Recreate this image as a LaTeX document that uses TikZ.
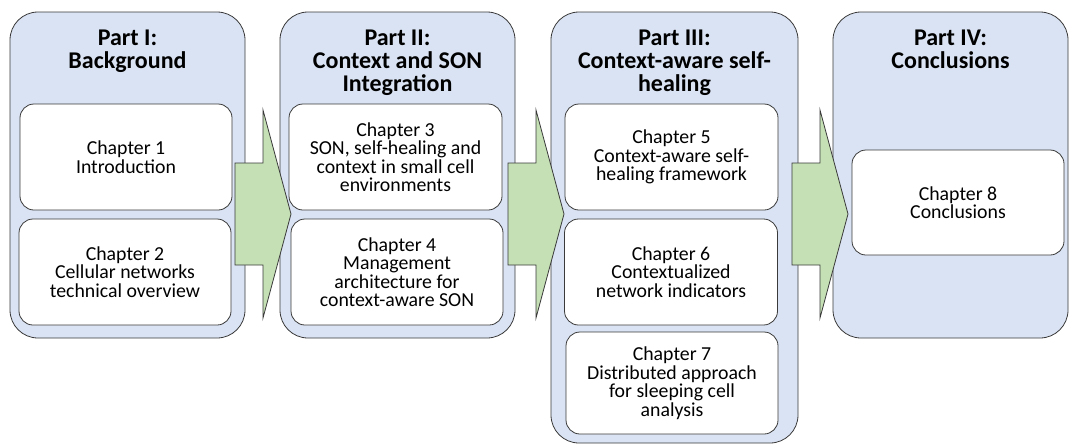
\documentclass[tikz,border=0pt]{standalone}
\usepackage{fontspec}
\setmainfont{Carlito}
\definecolor{partfill}{HTML}{DAE3F3}
\definecolor{arrowfill}{HTML}{C5E0B4}
\definecolor{edge}{HTML}{3A3A3A}
\begin{document}
\begin{tikzpicture}[x=1pt,y=-1pt,
  part/.style={draw=edge, fill=partfill, line width=0.8pt, rounded corners=28pt, inner sep=0pt},
  chap/.style={draw=edge, fill=white, line width=0.8pt, rounded corners=14pt, inner sep=0pt,
    minimum width=212pt, align=center, font=\fontsize{19.8}{18.5}\selectfont},
  ptitle/.style={align=center, anchor=north, font=\fontsize{24}{22.8}\selectfont\bfseries, inner sep=0pt},
  barrow/.style={draw=edge, fill=arrowfill, line width=0.8pt, line join=miter}]
\useasboundingbox (0,0) rectangle (1070,445);
% parts
\node[part, minimum width=235pt, minimum height=326pt] (p1) at (127.5,175) {};
\node[part, minimum width=235pt, minimum height=326pt] (p2) at (397.5,175) {};
\node[part, minimum width=247pt, minimum height=431pt] (p3) at (674.5,227.5) {};
\node[part, minimum width=235pt, minimum height=326pt] (p4) at (950.5,175) {};
% titles
\node[ptitle] (t1) at (127.5,30) {Part I:\\Background};
\node[ptitle] (t2) at (397.5,30) {Part II:\\Context and SON\\Integration};
\node[ptitle] (t3) at (674.5,30) {Part III:\\Context-aware self-\\healing};
\node[ptitle] (t4) at (950.5,30) {Part IV:\\Conclusions};
% chapters
\node[chap, minimum height=106pt] (c1) at (126,157) {Chapter 1\\Introduction};
\node[chap, minimum height=106pt] (c2) at (125,272) {Chapter 2\\Cellular networks\\technical overview};
\node[chap, minimum width=213pt, minimum height=106pt] (c3) at (395.5,157) {Chapter 3\\SON, self-healing and\\context in small cell\\environments};
\node[chap, minimum height=106pt] (c4) at (397,272) {Chapter 4\\Management\\architecture for\\context-aware SON};
\node[chap, minimum width=213pt, minimum height=106pt] (c5) at (671.5,157) {Chapter 5\\Context-aware self-\\healing framework};
\node[chap, minimum width=213pt, minimum height=106pt] (c6) at (671,272) {Chapter 6\\Contextualized\\network indicators};
\node[chap, minimum height=102pt] (c7) at (672,383) {Chapter 7\\Distributed approach\\for sleeping cell\\analysis};
\node[chap, minimum height=105pt] (c8) at (958,202.5) {Chapter 8\\Conclusions};
% block arrows
\foreach \sx/\nm in {235/a1, 508/a2, 792/a3}{
  \draw[barrow] (\sx,163) -- ++(28,0) -- ++(0,-53) -- ++(28,104) -- ++(-28,104) -- ++(0,-53) -- ++(-28,0) -- cycle;
}
\end{tikzpicture}
\end{document}
